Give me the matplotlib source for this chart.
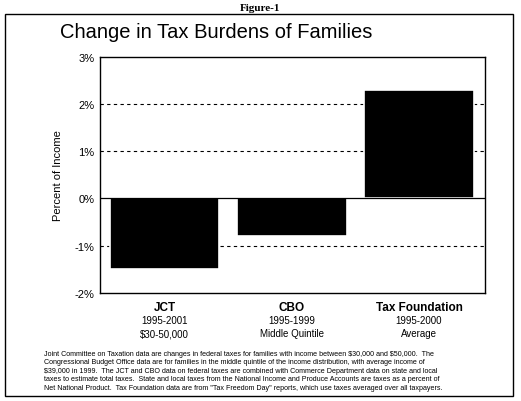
import matplotlib
matplotlib.use("Agg")
from matplotlib import pyplot as plt
from matplotlib.patches import Rectangle

sources = ["JCT", "CBO", "Tax Foundation"]
periods = ["1995-2001", "1995-1999", "1995-2000"]
groups = [r"\$30-50,000", "Middle Quintile", "Average"]
change = [-1.5, -0.8, 2.3]
yticks = [-2, -1, 0, 1, 2, 3]

note = (r"Joint Committee on Taxation data are changes in federal taxes for families with income between \$30,000 and \$50,000.  The" "\n"
        r"Congressional Budget Office data are for families in the middle quintile of the income distribution, with average income of" "\n"
        r"\$39,000 in 1999.  The JCT and CBO data on federal taxes are combined with Commerce Department data on state and local" "\n"
        "taxes to estimate total taxes.  State and local taxes from the National Income and Produce Accounts are taxes as a percent of\n"
        "Net National Product.  Tax Foundation data are from \"Tax Freedom Day\" reports, which use taxes averaged over all taxpayers.")

fig = plt.figure(figsize=(5.21, 4.02), dpi=100)
fig.patches.append(Rectangle((0.01, 0.012), 0.975, 0.95, transform=fig.transFigure,
                             fill=False, edgecolor="black", linewidth=1))
fig.text(0.5, 0.99, "Figure-1", ha="center", va="top", fontsize=8, fontweight="bold",
         family="Liberation Serif")
fig.text(0.115, 0.92, "Change in Tax Burdens of Families", ha="left", va="center",
         fontsize=14.5, family="Liberation Sans")

ax = fig.add_axes([0.192, 0.269, 0.739, 0.587])
x = range(len(sources))
ax.bar(x, change, width=0.86, color="black", edgecolor="white", linewidth=1.2, zorder=3)
ax.set_xlim(-0.51, 2.52)
ax.set_ylim(-2, 3)
ax.set_yticks(yticks)
ax.set_yticklabels([f"{v}%" for v in yticks], fontsize=8, family="Liberation Sans")
for v in [-1, 1, 2]:
    ax.axhline(v, color="black", linestyle=(0, (3, 3)), linewidth=0.8, zorder=1)
ax.axhline(0, color="black", linewidth=0.9, zorder=4)
ax.set_xticks([])
ax.tick_params(axis="y", length=0, pad=4)
for s in ax.spines.values():
    s.set_linewidth(1)
ax.set_ylabel("Percent of Income", fontsize=8, family="Liberation Sans", labelpad=8)

for i in x:
    ax.text(i, -2.3, sources[i], ha="center", va="center", fontsize=8.5, fontweight="bold",
            family="Liberation Sans")
    ax.text(i, -2.57, periods[i], ha="center", va="center", fontsize=7, family="Liberation Sans")
    ax.text(i, -2.86, groups[i], ha="center", va="center", fontsize=7, family="Liberation Sans")

fig.text(0.085, 0.128, note, ha="left", va="top", fontsize=5.15, family="Liberation Sans",
         linespacing=1.3)

fig.savefig("out.png", dpi=100)
